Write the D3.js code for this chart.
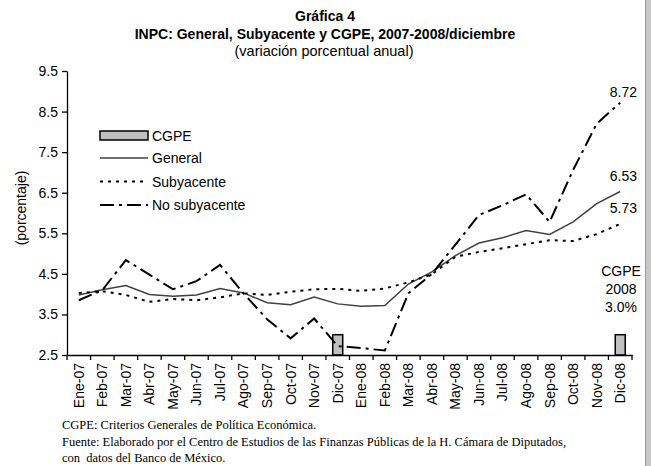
<!DOCTYPE html>
<html>
<head>
<meta charset="utf-8">
<script src="https://cdn.jsdelivr.net/npm/d3@7"></script>
<style>
  body { margin: 0; background: #fff; }
  svg { display: block; font-family: 'Liberation Sans', Arial, sans-serif; }
</style>
</head>
<body>
<svg width="651" height="466"></svg>
<script>
const width = 651
const height = 466
const margin = { top: 71, right: 19, bottom: 111, left: 67 }

const months = ['Ene-07', 'Feb-07', 'Mar-07', 'Abr-07', 'May-07', 'Jun-07', 'Jul-07', 'Ago-07', 'Sep-07', 'Oct-07', 'Nov-07', 'Dic-07',
  'Ene-08', 'Feb-08', 'Mar-08', 'Abr-08', 'May-08', 'Jun-08', 'Jul-08', 'Ago-08', 'Sep-08', 'Oct-08', 'Nov-08', 'Dic-08']

const general = [3.98, 4.11, 4.21, 3.99, 3.95, 3.98, 4.14, 4.03, 3.79, 3.74, 3.93, 3.76,
  3.70, 3.72, 4.25, 4.55, 4.95, 5.26, 5.39, 5.57, 5.47, 5.78, 6.23, 6.53]
const subyacente = [4.03, 4.07, 3.98, 3.81, 3.88, 3.85, 3.92, 4.02, 3.98, 4.06, 4.12, 4.13,
  4.08, 4.14, 4.29, 4.49, 4.92, 5.04, 5.13, 5.23, 5.33, 5.31, 5.48, 5.73]
const noSubyacente = [3.85, 4.10, 4.84, 4.48, 4.12, 4.32, 4.72, 4.02, 3.38, 2.91, 3.40, 2.72,
  2.67, 2.61, 4.02, 4.50, 5.22, 5.95, 6.19, 6.46, 5.78, 7.06, 8.20, 8.72]
const cgpe = [null, null, null, null, null, null, null, null, null, null, null, 3.0,
  null, null, null, null, null, null, null, null, null, null, null, 3.0]

const yTicks = [2.5, 3.5, 4.5, 5.5, 6.5, 7.5, 8.5, 9.5]

const svg = d3.select('svg')

// scales
const xScale = d3.scaleBand()
  .domain(months)
  .range([margin.left, width - margin.right])

const yScale = d3.scaleLinear()
  .domain([2.5, 9.5])
  .range([height - margin.bottom, margin.top])

const cx = d => xScale(d) + xScale.bandwidth() / 2

// right edge frame
svg.append('rect')
  .attr('x', 645).attr('y', 0)
  .attr('width', 6).attr('height', height)
  .attr('fill', '#c8c8c8')
svg.append('line')
  .attr('x1', 645.5).attr('x2', 645.5)
  .attr('y1', 0).attr('y2', height)
  .attr('stroke', '#9a9a9a')

// titles
svg.append('text')
  .attr('x', 325).attr('y', 21)
  .attr('text-anchor', 'middle')
  .style('font-size', '14px').style('font-weight', 'bold')
  .text('Gráfica 4')
svg.append('text')
  .attr('x', 325).attr('y', 39)
  .attr('text-anchor', 'middle')
  .style('font-size', '14px').style('font-weight', 'bold')
  .text('INPC: General, Subyacente y CGPE, 2007-2008/diciembre')
svg.append('text')
  .attr('x', 324).attr('y', 56)
  .attr('text-anchor', 'middle')
  .style('font-size', '14.5px')
  .text('(variación porcentual anual)')

// CGPE bars
const barW = 10
svg.append('g')
  .selectAll('rect')
  .data(months.map((m, i) => ({ m, v: cgpe[i] })).filter(d => d.v != null))
  .enter().append('rect')
  .attr('x', d => cx(d.m) - barW / 2)
  .attr('y', d => yScale(d.v))
  .attr('width', barW)
  .attr('height', d => yScale(2.5) - yScale(d.v))
  .attr('fill', '#c0c0c0')
  .attr('stroke', '#000')
  .attr('stroke-width', 1.5)

// lines
const series = [
  { name: 'General', values: general, color: '#404040', width: 1.5, dash: null },
  { name: 'Subyacente', values: subyacente, color: '#000', width: 2, dash: '3,5' },
  { name: 'No subyacente', values: noSubyacente, color: '#000', width: 2, dash: '14,5,3,5' }
]

const line = d3.line()
  .x((d, i) => cx(months[i]))
  .y(d => yScale(d))

svg.append('g')
  .selectAll('path')
  .data(series)
  .enter().append('path')
  .attr('d', d => line(d.values))
  .attr('fill', 'none')
  .attr('stroke', d => d.color)
  .attr('stroke-width', d => d.width)
  .attr('stroke-dasharray', d => d.dash)

// axes
const yAxis = d3.axisLeft(yScale)
  .tickValues(yTicks)
  .tickFormat(d3.format('.1f'))
  .tickSize(5)
  .tickSizeOuter(0)

svg.append('g')
  .attr('transform', `translate(${margin.left},0)`)
  .call(yAxis)
  .call(g => g.selectAll('text').style('font-size', '14px').attr('fill', '#000').attr('x', -9))
  .call(g => g.selectAll('line').attr('stroke-width', 1.3))
  .call(g => g.select('.domain').attr('stroke-width', 1.3))

const xAxis = d3.axisBottom(xScale)
  .tickSize(0)
  .tickSizeOuter(0)

const xg = svg.append('g')
  .attr('transform', `translate(0,${height - margin.bottom})`)
  .call(xAxis)
xg.select('.domain').attr('stroke-width', 1.3)
xg.selectAll('text')
  .style('font-size', '14px')
  .attr('fill', '#000')
  .attr('text-anchor', 'end')
  .attr('transform', 'rotate(-90)')
  .attr('x', -8)
  .attr('y', 0)
  .attr('dy', '0.35em')

// category boundary ticks
xg.selectAll('.bound')
  .data(months.map(m => xScale(m)).concat([xScale.range()[1]]))
  .enter().append('line')
  .attr('class', 'bound')
  .attr('x1', d => d).attr('x2', d => d)
  .attr('y1', 0).attr('y2', 5)
  .attr('stroke', '#000')
  .attr('stroke-width', 1.3)

// y label
svg.append('text')
  .attr('transform', 'translate(26,208) rotate(-90)')
  .attr('text-anchor', 'middle')
  .style('font-size', '14px')
  .text('(porcentaje)')

// end labels
const last = months.length - 1
const endLabels = [
  { v: noSubyacente[last], dy: -6 },
  { v: general[last], dy: -10 },
  { v: subyacente[last], dy: -11 }
]
svg.append('g')
  .selectAll('text')
  .data(endLabels)
  .enter().append('text')
  .attr('x', 637)
  .attr('y', d => yScale(d.v) + d.dy)
  .attr('text-anchor', 'end')
  .style('font-size', '14px')
  .text(d => d3.format('.2f')(d.v))

const cgpeNote = ['CGPE', '2008', d3.format('.1f')(cgpe[last]) + '%']
svg.append('g')
  .selectAll('text')
  .data(cgpeNote)
  .enter().append('text')
  .attr('x', 621)
  .attr('y', (d, i) => 276 + i * 18)
  .attr('text-anchor', 'middle')
  .style('font-size', '14px')
  .text(d => d)

// legend
const legend = svg.append('g').attr('transform', 'translate(100,0)')
legend.append('rect')
  .attr('x', 0).attr('y', 131)
  .attr('width', 48).attr('height', 9)
  .attr('fill', '#c0c0c0')
  .attr('stroke', '#000')
  .attr('stroke-width', 1.5)
legend.append('text')
  .attr('x', 52).attr('y', 140.5)
  .style('font-size', '14px')
  .text('CGPE')

series.forEach((s, i) => {
  const ly = 158 + i * 23.5
  legend.append('line')
    .attr('x1', 0).attr('x2', 48)
    .attr('y1', ly).attr('y2', ly)
    .attr('stroke', s.color)
    .attr('stroke-width', s.width)
    .attr('stroke-dasharray', s.dash)
  legend.append('text')
    .attr('x', 52).attr('y', ly + 5)
    .style('font-size', '14px')
    .text(s.name)
})

// footnotes
const notes = ['CGPE: Criterios Generales de Política Económica.',
  'Fuente: Elaborado por el Centro de Estudios de las Finanzas Públicas de la H. Cámara de Diputados,',
  'con  datos del Banco de México.']
svg.append('g')
  .selectAll('text')
  .data(notes)
  .enter().append('text')
  .attr('x', 62)
  .attr('y', (d, i) => 429 + i * 16.5)
  .style('font-family', "'Liberation Serif', 'Times New Roman', serif")
  .style('font-size', '12.5px')
  .style('white-space', 'pre')
  .text(d => d)
</script>
</body>
</html>
